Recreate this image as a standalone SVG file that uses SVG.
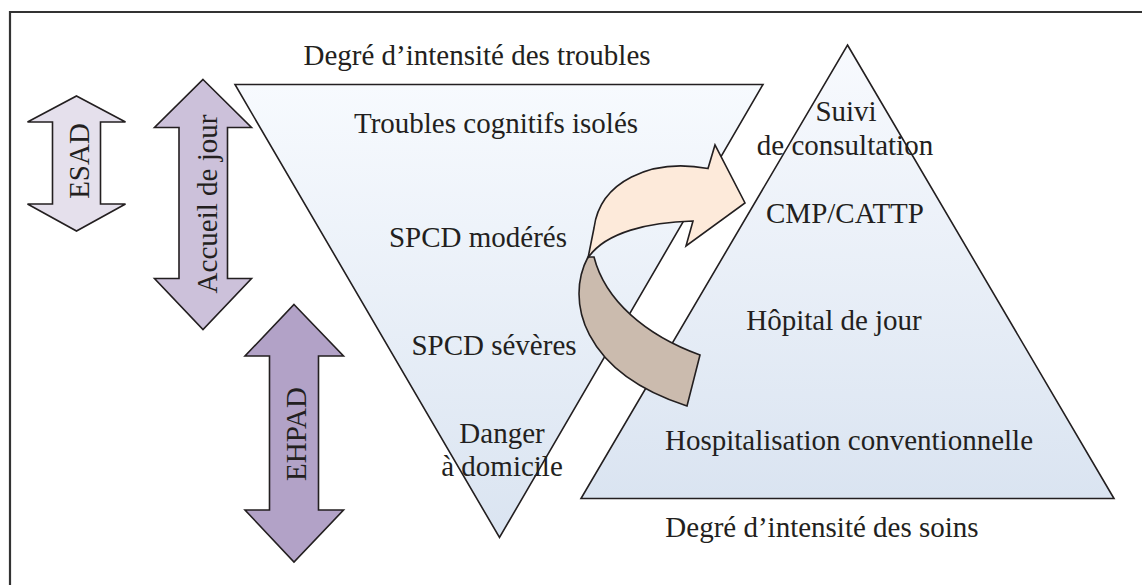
<svg xmlns="http://www.w3.org/2000/svg" width="1142" height="585" viewBox="0 0 1142 585">
<defs>
<linearGradient id="gInv" x1="0" y1="0" x2="0" y2="1">
<stop offset="0" stop-color="#F7FAFE"/>
<stop offset="1" stop-color="#DAE4F1"/>
</linearGradient>
<linearGradient id="gUp" x1="0" y1="0" x2="0" y2="1">
<stop offset="0" stop-color="#F8FAFE"/>
<stop offset="1" stop-color="#DAE4F1"/>
</linearGradient>
<style>
.t{font-size:29px;fill:#231F20;}
.c{text-anchor:middle;}
.sh{stroke:#231F20;stroke-width:1.6;stroke-linejoin:miter;}
</style>
</defs>
<rect width="1142" height="585" fill="#FFFFFF"/>
<path d="M10,585 L10,12 L1142,12" fill="none" stroke="#333333" stroke-width="2.2"/>

<g font-family="'Liberation Serif', 'Times New Roman', 'DejaVu Serif', serif">
<g id="esad">
<polygon class="sh" fill="#E5E0EC" points="76.5,96 125.5,122 100.5,122 100.5,204 125.5,204 76.5,231 27.5,204 52.5,204 52.5,122 27.5,122"/>
<text class="t c" transform="translate(89,161) rotate(-90)">ESAD</text>
</g>
<g id="accueil">
<polygon class="sh" fill="#CCC1DA" points="203,79.5 251.5,127.5 227.5,127.5 227.5,278.5 251.5,278.5 203,329.5 154.5,278.5 179,278.5 179,127.5 154.5,127.5"/>
<text class="t c" transform="translate(217,204) rotate(-90)">Accueil de jour</text>
</g>
<g id="ehpad">
<polygon class="sh" fill="#B2A2C7" points="294,304.5 343.5,356 318.5,356 318.5,510 343.5,510 294,562 245,510 269.5,510 269.5,356 245,356"/>
<text class="t c" transform="translate(306,434) rotate(-90)">EHPAD</text>
</g>

<g id="troubles">
<polygon class="sh" fill="url(#gInv)" points="235,84.5 763,84.5 499.5,537.5"/>
<text class="t c" x="477" y="65">Degré d’intensité des troubles</text>
<text class="t c" x="496" y="133">Troubles cognitifs isolés</text>
<text class="t c" x="478" y="247">SPCD modérés</text>
<text class="t c" x="494" y="355">SPCD sévères</text>
<text class="t c" x="502" y="443">Danger</text>
<text class="t c" x="502" y="476">à domicile</text>
</g>

<g id="soins">
<polygon class="sh" fill="url(#gUp)" points="847.5,45 1114,498.5 581,498.5"/>
<text class="t c" x="846" y="121">Suivi</text>
<text class="t c" x="845" y="155">de consultation</text>
<text class="t c" x="845" y="223">CMP/CATTP</text>
<text class="t c" x="834" y="330">Hôpital de jour</text>
<text class="t c" x="849" y="450">Hospitalisation conventionnelle</text>
<text class="t c" x="822" y="537">Degré d’intensité des soins</text>
</g>
</g>

<g id="connectors">
<path class="sh" fill="#CBBBAE" d="M588,257 C565,300 582,372 687,406 L700,355 C645,335 605,300 594,257 Z"/>
<path class="sh" fill="#FDEADA" d="M594,228 C600,182 650,158 708,168.5 L715,145 L745,203 L686,246 L693,221 C650,222 605,232 588,258 Z"/>
</g>
</svg>
